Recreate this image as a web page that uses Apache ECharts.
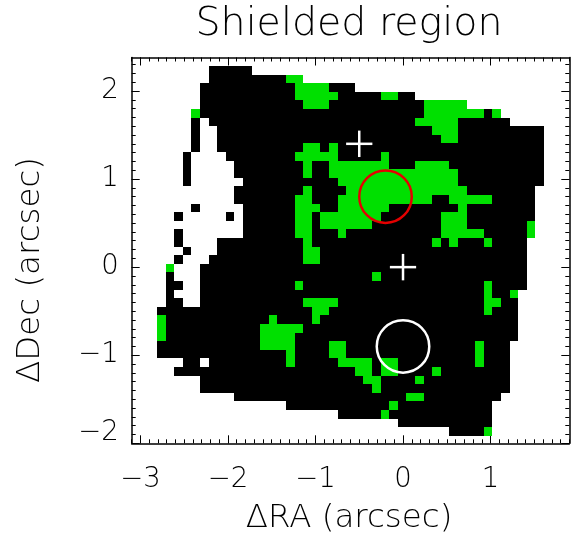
<!DOCTYPE html>
<html>
<head>
<meta charset="utf-8">
<script src="https://cdn.jsdelivr.net/npm/echarts@6/dist/echarts.min.js"></script>
<style>
  html, body { margin: 0; padding: 0; background: #ffffff; }
  #chart { width: 572px; height: 540px; }
</style>
</head>
<body>
<div id="chart"></div>
<script>
// Axis tick labels (arcsec)
const RA_TICKS = [-3, -2, -1, 0, 1];
const DEC_TICKS = [-2, -1, 0, 1, 2];

// Pixel map, top row first, west (left) to east (right).
// '.' = no coverage, '#' = covered, 'g' = shielded pixel
const MAP_ROWS = [
  '......#####..................................',
  '......#########gg............................',
  '.....###########gggg###......................',
  '.....###########ggggg#####gg##...............',
  '.....############ggg###########ggggg.........',
  '....g##########################ggggggg#g.....',
  '....#.########################ggggg######....',
  '....#..#########################ggg##########',
  '....#..##########################gg##########',
  '....#..##########gg#g########################',
  '...#....########ggggg#####g##################',
  '...#.....########g##ggggggg###gggg###########',
  '...#.....########g##ggggggggggggggg##########',
  '...#......###########gggggggggggggg##########',
  '.........########g####gggggggggggggg########.',
  '.........#######gg###ggggggggggg##ggggg#####.',
  '....#.....######ggg##gggggg########g########.',
  '..#.....#.######gg#ggggggg#######ggg########.',
  '..........######gg#gggggg########ggg#######g.',
  '..#.......######gg###g###########ggggg#####g.',
  '..#....##########g##############g#g###g####..',
  '...#...##########gg########################..',
  '..#...###########gg########################..',
  '.g...######################################..',
  '.#...####################g#################..',
  '.##..###########g#####################g####..',
  '.#...#################################g##g...',
  '.##..############gggg#################gg##...',
  '##################gg##################g###...',
  'g############g####g#######################...',
  'g###########ggggg#########################...',
  'g###########gggg##########################...',
  '############gggg####gg###############g###....',
  '###############g####gg###############g###....',
  '...##.#########g#####gggg#gg#########g###....',
  '..#####################gg#gg####g########....',
  '.....###################gg####g##########....',
  '.....####################g###############....',
  '.........####################gg#########.....',
  '...............############g###########.....',
  '.....................#####g############......',
  '............................###########......',
  '..................................####g......'
];

// Map geometry in arcsec: west edge, north edge, pixel pitch
const MAP_RA_WEST = -2.811;
const MAP_DEC_NORTH = 2.2835;
const PIX_RA = 0.09826;
const PIX_DEC = 0.09764;

// Reference positions (arcsec)
const CROSS_RA = [0, -0.5];
const CROSS_DEC = [0, 1.4];
const CROSS_HALF = 0.15;

// Apertures (arcsec)
const APERTURE_RA = [-0.2, 0];
const APERTURE_DEC = [0.8, -0.9];
const APERTURE_R = [0.3, 0.3];
const APERTURE_COLOR = ['#e40000', '#ffffff'];

const RA_MIN = -3.1, RA_MAX = 1.9;
const DEC_MIN = -2.0, DEC_MAX = 2.38;

const FONT = "'DejaVu Sans', sans-serif";
const FONT_WEIGHT = 200;
const GREEN = '#00e000';

// build cell list from the map rows
const cells = [];
MAP_ROWS.forEach(function (row, j) {
  for (let i = 0; i < row.length; i++) {
    const ch = row[i];
    if (ch === '.') continue;
    cells.push([
      MAP_RA_WEST + (i + 0.5) * PIX_RA,
      MAP_DEC_NORTH - (j + 0.5) * PIX_DEC,
      ch === 'g' ? 1 : 0
    ]);
  }
});

const crosses = CROSS_RA.map(function (ra, k) { return [ra, CROSS_DEC[k]]; });
const apertures = APERTURE_RA.map(function (ra, k) {
  return [ra, APERTURE_DEC[k], APERTURE_R[k], k];
});

function fmt(v) {
  return v < 0 ? '\u2212' + Math.abs(v) : String(v);
}

function minorValues(lo, hi) {
  const out = [];
  for (let k = Math.ceil(lo * 10 - 1e-6); k <= Math.floor(hi * 10 + 1e-6); k++) out.push(k / 10);
  return out;
}

const AXIS_LINE = { show: true, onZero: false, lineStyle: { color: '#000', width: 1.5 } };
const TICK_STYLE = { color: '#000', width: 1 };
const LABEL_FONT = { fontFamily: FONT, fontSize: 27.5, fontWeight: FONT_WEIGHT, color: '#000' };

function xAxisPair(position, withLabels) {
  return [
    {
      type: 'value', position: position, min: RA_MIN, max: RA_MAX,
      axisLine: AXIS_LINE,
      splitLine: { show: false },
      axisTick: { show: true, inside: true, length: 8, customValues: RA_TICKS, lineStyle: TICK_STYLE },
      axisLabel: Object.assign({ show: withLabels, customValues: RA_TICKS, margin: 23, formatter: fmt }, LABEL_FONT)
    },
    {
      type: 'value', position: position, min: RA_MIN, max: RA_MAX,
      axisLine: { show: false, onZero: false },
      splitLine: { show: false },
      axisTick: { show: true, inside: true, length: 4, customValues: minorValues(RA_MIN, RA_MAX), lineStyle: TICK_STYLE },
      axisLabel: { show: false }
    }
  ];
}

function yAxisPair(position, withLabels) {
  return [
    {
      type: 'value', position: position, min: DEC_MIN, max: DEC_MAX,
      axisLine: AXIS_LINE,
      splitLine: { show: false },
      axisTick: { show: true, inside: true, length: 8, customValues: DEC_TICKS, lineStyle: TICK_STYLE },
      axisLabel: Object.assign({
        show: withLabels, customValues: DEC_TICKS, margin: 13,
        formatter: function (v) {
          return v === DEC_MIN ? '{low|' + fmt(v) + '}' : fmt(v);
        },
        rich: {
          low: Object.assign({ padding: [0, 0, 20, 0] }, LABEL_FONT)
        }
      }, LABEL_FONT)
    },
    {
      type: 'value', position: position, min: DEC_MIN, max: DEC_MAX,
      axisLine: { show: false, onZero: false },
      splitLine: { show: false },
      axisTick: { show: true, inside: true, length: 4, customValues: minorValues(DEC_MIN, DEC_MAX), lineStyle: TICK_STYLE },
      axisLabel: { show: false }
    }
  ];
}

const chart = echarts.init(document.getElementById('chart'), null, { renderer: 'canvas' });

chart.setOption({
  animation: false,
  backgroundColor: '#ffffff',
  grid: { left: 131.7, right: 2.7, top: 57.5, bottom: 96.7, containLabel: false },
  xAxis: xAxisPair('bottom', true).concat(xAxisPair('top', false)),
  yAxis: yAxisPair('left', true).concat(yAxisPair('right', false)),
  graphic: [
    {
      type: 'text', x: 349, y: 25,
      style: { text: 'Shielded region', fontFamily: FONT, fontSize: 39.5, fontWeight: FONT_WEIGHT, fill: '#000',
               textAlign: 'center', textVerticalAlign: 'middle' }
    },
    {
      type: 'text', x: 349, y: 519,
      style: { text: '\u0394RA (arcsec)', fontFamily: FONT, fontSize: 32.5, fontWeight: FONT_WEIGHT, fill: '#000',
               textAlign: 'center', textVerticalAlign: 'middle' }
    },
    {
      type: 'text', x: 31, y: 270, rotation: Math.PI / 2,
      style: { text: '\u0394Dec (arcsec)', fontFamily: FONT, fontSize: 32.5, fontWeight: FONT_WEIGHT, fill: '#000',
               textAlign: 'center', textVerticalAlign: 'middle' }
    }
  ],
  series: [
    {
      type: 'custom',
      name: 'map',
      xAxisIndex: 0, yAxisIndex: 0,
      data: cells,
      silent: true,
      renderItem: function (params, api) {
        const ra = api.value(0), dec = api.value(1);
        const p0 = api.coord([ra - PIX_RA / 2, dec + PIX_DEC / 2]);
        const p1 = api.coord([ra + PIX_RA / 2, dec - PIX_DEC / 2]);
        const x0 = Math.round(p0[0]), y0 = Math.round(p0[1]);
        const x1 = Math.round(p1[0]), y1 = Math.round(p1[1]);
        return {
          type: 'rect',
          shape: { x: x0, y: y0, width: x1 - x0, height: y1 - y0 },
          style: { fill: api.value(2) === 1 ? GREEN : '#000000' }
        };
      }
    },
    {
      type: 'custom',
      name: 'apertures',
      xAxisIndex: 0, yAxisIndex: 0,
      data: apertures,
      silent: true,
      z: 5,
      renderItem: function (params, api) {
        const c = api.coord([api.value(0), api.value(1)]);
        const r = api.size([api.value(2), 0])[0];
        return {
          type: 'circle',
          shape: { cx: c[0], cy: c[1], r: r },
          style: { fill: null, stroke: APERTURE_COLOR[api.value(3)], lineWidth: 2.5 }
        };
      }
    },
    {
      type: 'custom',
      name: 'crosses',
      xAxisIndex: 0, yAxisIndex: 0,
      data: crosses,
      silent: true,
      z: 6,
      renderItem: function (params, api) {
        const ra = api.value(0), dec = api.value(1);
        const l = api.coord([ra - CROSS_HALF, dec]);
        const r = api.coord([ra + CROSS_HALF, dec]);
        const t = api.coord([ra, dec + CROSS_HALF]);
        const b = api.coord([ra, dec - CROSS_HALF]);
        return {
          type: 'group',
          children: [
            { type: 'line', shape: { x1: l[0], y1: l[1], x2: r[0], y2: r[1] }, style: { stroke: '#fff', lineWidth: 2.5 } },
            { type: 'line', shape: { x1: t[0], y1: t[1], x2: b[0], y2: b[1] }, style: { stroke: '#fff', lineWidth: 2.5 } }
          ]
        };
      }
    }
  ]
});
</script>
</body>
</html>
